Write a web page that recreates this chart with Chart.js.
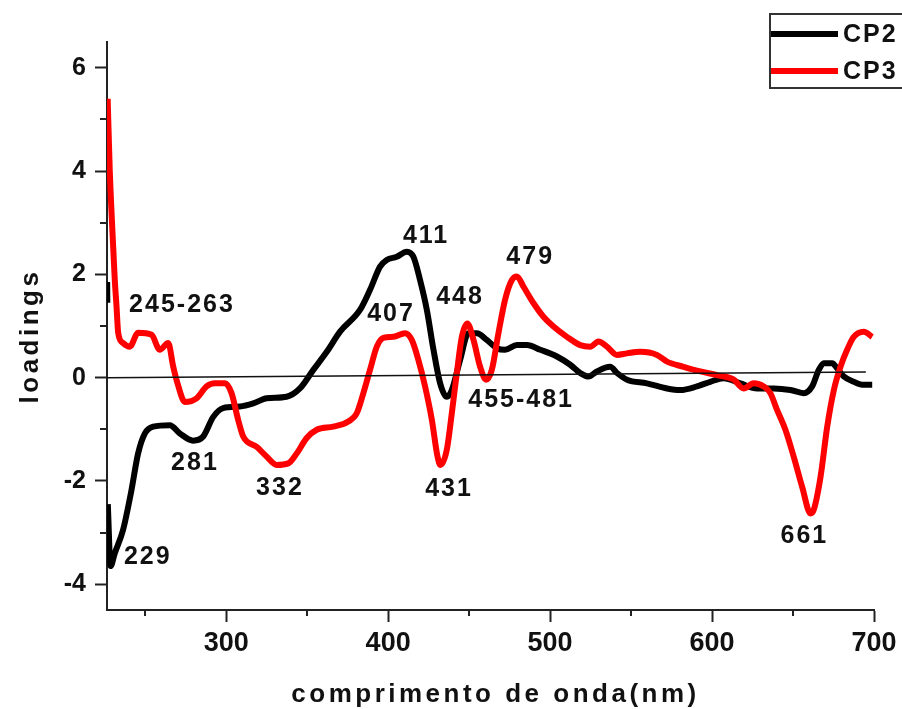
<!DOCTYPE html>
<html>
<head>
<meta charset="utf-8">
<title>loadings CP2 / CP3</title>
<script src="https://cdn.jsdelivr.net/npm/chart.js@4.4.1/dist/chart.umd.min.js"></script>
<style>
    html, body { margin: 0; padding: 0; background: #fff; }
    #wrap { width: 902px; height: 709px; position: relative; }
</style>
</head>
<body>
<div id="wrap"><canvas id="loadingsChart"></canvas></div>
<script>
// wavelength (nm) and loading values for each component
const cp2Wavelength = [226.5, 226.6, 226.7, 226.9, 228.6, 231.2, 236.3, 241.5, 245.6, 249.8, 254.9, 265.2, 271.4, 279.6, 285.8, 292.0, 298.1, 308.5, 316.7, 325.0, 337.3, 345.5, 353.8, 362.1, 370.3, 382.6, 388.8, 395.0, 399.1, 405.3, 411.5, 415.6, 419.7, 423.9, 428.0, 432.1, 436.2, 439.3, 444.4, 449.6, 454.8, 460.9, 467.1, 472.2, 479.5, 485.7, 493.9, 504.2, 512.4, 518.6, 523.7, 528.9, 537.1, 541.3, 547.5, 559.8, 572.2, 580.4, 590.7, 598.9, 607.2, 617.5, 627.8, 638.1, 648.4, 656.6, 661.8, 665.9, 669.0, 674.2, 677.2, 681.4, 687.5, 693.7, 698.9];
const cp2Loadings = [1.85, 1.45, null, -2.45, -3.65, -3.40, -2.95, -2.18, -1.47, -1.08, -0.95, -0.92, -1.08, -1.22, -1.14, -0.76, -0.59, -0.56, -0.50, -0.40, -0.37, -0.21, 0.15, 0.50, 0.89, 1.31, 1.70, 2.15, 2.28, 2.34, 2.44, 2.34, 1.89, 1.31, 0.54, -0.11, -0.37, -0.24, 0.34, 0.86, 0.86, 0.73, 0.57, 0.54, 0.63, 0.63, 0.54, 0.41, 0.25, 0.09, 0.02, 0.12, 0.21, 0.09, -0.04, -0.11, -0.21, -0.24, -0.17, -0.08, -0.01, -0.11, -0.21, -0.21, -0.24, -0.30, -0.17, 0.15, 0.28, 0.28, 0.18, 0.02, -0.08, -0.14, -0.14];

const cp3Wavelength = [226.8, 228.1, 229.8, 231.2, 232.3, 233.3, 236.3, 240.5, 245.6, 253.9, 259.0, 264.2, 267.3, 270.3, 274.5, 281.7, 287.9, 293.0, 299.2, 303.3, 307.4, 310.5, 318.8, 325.0, 331.1, 338.3, 343.5, 349.7, 355.9, 366.1, 375.4, 380.6, 384.7, 388.8, 393.0, 397.0, 403.3, 410.4, 414.6, 418.7, 422.8, 427.0, 430.5, 432.3, 436.2, 439.3, 442.4, 445.5, 448.9, 452.7, 456.8, 460.5, 464.0, 468.1, 472.2, 476.4, 479.5, 483.6, 489.8, 495.9, 502.1, 510.4, 518.6, 524.8, 529.9, 535.1, 541.3, 547.5, 555.7, 566.0, 572.2, 582.4, 592.8, 603.1, 613.4, 619.5, 625.7, 631.9, 636.0, 640.2, 645.3, 650.4, 655.6, 660.8, 662.8, 667.0, 671.1, 675.2, 679.3, 683.4, 687.5, 693.7, 698.9];
const cp3Loadings = [5.40, 4.02, 2.80, 1.90, 1.37, 0.87, 0.67, 0.60, 0.87, 0.83, 0.54, 0.67, 0.21, -0.15, -0.47, -0.40, -0.17, -0.11, -0.11, -0.30, -0.82, -1.14, -1.34, -1.53, -1.69, -1.66, -1.47, -1.17, -1.01, -0.95, -0.85, -0.69, -0.30, 0.15, 0.60, 0.77, 0.79, 0.86, 0.73, 0.34, -0.17, -0.82, -1.53, -1.69, -1.40, -0.69, 0.09, 0.79, 1.05, 0.73, 0.21, -0.04, 0.15, 0.86, 1.51, 1.89, 1.96, 1.76, 1.44, 1.18, 0.99, 0.79, 0.63, 0.60, 0.70, 0.60, 0.44, 0.47, 0.50, 0.44, 0.31, 0.21, 0.12, 0.05, -0.04, -0.21, -0.11, -0.17, -0.30, -0.63, -1.01, -1.53, -2.11, -2.63, -2.56, -1.92, -0.95, -0.24, 0.21, 0.54, 0.79, 0.89, 0.79];

// thin reference line across the plot
const zeroLineWavelength = [226.4, 695];
const zeroLineLoadings = [0, 0.11];

// peak annotations
const peakText = ["229", "245-263", "281", "332", "407", "411", "448", "455-481", "431", "479", "661"];
const peakX = [251.6, 272.7, 280.7, 333.2, 401.8, 423.4, 444.4, 482.1, 437.6, 487.7, 657.0];
const peakY = [-3.48, 1.41, -1.65, -2.14, 1.23, 2.75, 1.56, -0.43, -2.16, 2.34, -3.07];

const xTicks = [300, 400, 500, 600, 700];
const xMinorTicks = [250, 350, 450, 550, 650];
const yTicks = [-4, -2, 0, 2, 4, 6];
const yMinorTicks = [-3, -1, 1, 3, 5];

const FONT = '"Liberation Sans", Arial, sans-serif';

function toPoints(xs, ys) {
    return xs.map((x, i) => ({ x: x, y: ys[i] }));
}

// minor tick marks, axis titles, peak labels and the boxed legend
const decorations = {
    id: "decorations",
    afterDraw(chart) {
        const { ctx, chartArea, scales } = chart;
        const x = scales.x;
        const y = scales.y;

        ctx.save();
        ctx.strokeStyle = "#222";
        ctx.lineWidth = 2;
        ctx.beginPath();
        xMinorTicks.forEach(v => {
            const px = Math.round(x.getPixelForValue(v));
            ctx.moveTo(px, chartArea.bottom);
            ctx.lineTo(px, chartArea.bottom + 6);
        });
        yMinorTicks.forEach(v => {
            const py = Math.round(y.getPixelForValue(v));
            ctx.moveTo(chartArea.left, py);
            ctx.lineTo(chartArea.left - 7, py);
        });
        ctx.stroke();

        ctx.fillStyle = "#111";
        ctx.font = "bold 25px " + FONT;
        ctx.letterSpacing = "2px";
        ctx.textAlign = "center";
        ctx.textBaseline = "middle";
        peakText.forEach((t, i) => {
            ctx.fillText(t, x.getPixelForValue(peakX[i]), y.getPixelForValue(peakY[i]));
        });

        // axis titles
        ctx.font = "bold 26px " + FONT;
        ctx.letterSpacing = "3.5px";
        ctx.textBaseline = "alphabetic";
        ctx.fillText("comprimento de onda(nm)", (chartArea.left + chartArea.right) / 2 + 5, chart.height - 7);

        ctx.save();
        ctx.translate(38, (chartArea.top + chartArea.bottom) / 2 + 10);
        ctx.rotate(-Math.PI / 2);
        ctx.fillText("loadings", 0, 0);
        ctx.restore();

        // legend
        ctx.letterSpacing = "2px";
        ctx.lineWidth = 2;
        ctx.strokeStyle = "#333";
        ctx.strokeRect(770, 14, 140, 74);
        ctx.font = "bold 25px " + FONT;
        ctx.textAlign = "left";
        ctx.textBaseline = "alphabetic";
        [0, 1].forEach(i => {
            const ds = chart.data.datasets[i];
            const ly = i === 0 ? 34 : 71;
            ctx.strokeStyle = ds.borderColor;
            ctx.lineWidth = 6;
            ctx.beginPath();
            ctx.moveTo(771, ly);
            ctx.lineTo(838, ly);
            ctx.stroke();
            ctx.fillStyle = "#111";
            ctx.fillText(ds.label, 843, ly + 8);
        });
        ctx.restore();
    }
};

new Chart(document.getElementById("loadingsChart"), {
    type: "line",
    data: {
        datasets: [
            {
                label: "CP2",
                data: toPoints(cp2Wavelength, cp2Loadings),
                borderColor: "#000000",
                borderWidth: 6,
                pointRadius: 0,
                cubicInterpolationMode: "monotone",
                borderJoinStyle: "round",
                order: 3
            },
            {
                label: "CP3",
                data: toPoints(cp3Wavelength, cp3Loadings),
                borderColor: "#ff0000",
                borderWidth: 6,
                pointRadius: 0,
                cubicInterpolationMode: "monotone",
                borderJoinStyle: "round",
                order: 2
            },
            {
                label: "zero",
                data: toPoints(zeroLineWavelength, zeroLineLoadings),
                borderColor: "#111",
                borderWidth: 1.5,
                pointRadius: 0,
                order: 1
            }
        ]
    },
    options: {
        responsive: true,
        maintainAspectRatio: false,
        animation: false,
        layout: { padding: { top: 42, right: 28, left: 0, bottom: 0 } },
        plugins: {
            legend: { display: false },
            tooltip: { enabled: false }
        },
        scales: {
            x: {
                type: "linear",
                min: 226.4,
                max: 700,
                afterBuildTicks: s => { s.ticks = xTicks.map(v => ({ value: v })); },
                afterFit: s => { s.height = 99; },
                grid: { drawOnChartArea: false, tickLength: 12, tickWidth: 2, tickColor: "#222" },
                border: { color: "#222", width: 2 },
                ticks: {
                    color: "#111",
                    font: { family: FONT, size: 27, weight: "bold" },
                    padding: 5,
                    maxRotation: 0,
                    autoSkip: false
                }
            },
            y: {
                min: -4.5,
                max: 6.5,
                afterBuildTicks: s => { s.ticks = yTicks.map(v => ({ value: v })); },
                afterFit: s => { s.width = 107; },
                grid: { drawOnChartArea: false, tickLength: 12, tickWidth: 2, tickColor: "#222" },
                border: { color: "#222", width: 2 },
                ticks: {
                    color: "#111",
                    font: { family: FONT, size: 25, weight: "bold" },
                    padding: 9
                }
            }
        }
    },
    plugins: [decorations]
});
</script>
</body>
</html>
